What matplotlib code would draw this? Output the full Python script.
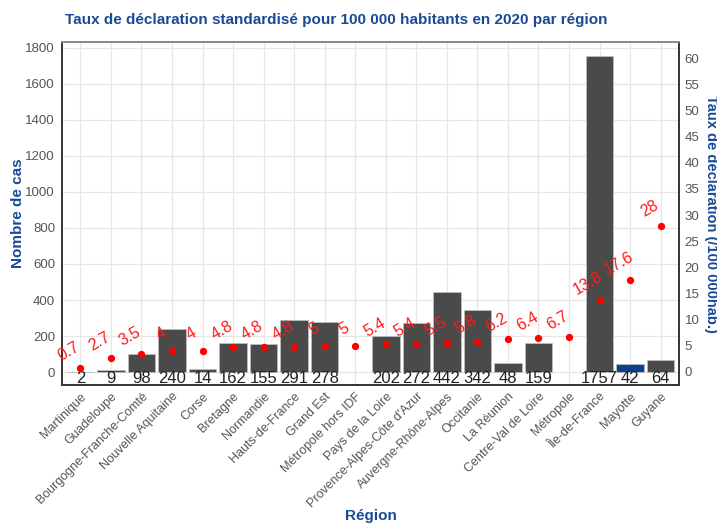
import numpy as np
import matplotlib
matplotlib.use("Agg")
import matplotlib.pyplot as plt

plt.rcParams['font.family'] = ['Liberation Sans', 'DejaVu Sans']

regions = ["Martinique", "Guadeloupe", "Bourgogne-Franche-Comté", "Nouvelle Aquitaine",
           "Corse", "Bretagne", "Normandie", "Hauts-de-France", "Grand Est",
           "Métropole hors IDF", "Pays de la Loire", "Provence-Alpes-Côte d'Azur",
           "Auvergne-Rhône-Alpes", "Occitanie", "La Réunion", "Centre-Val de Loire",
           "Métropole", "Île-de-France", "Mayotte", "Guyane"]
cas = [2, 9, 98, 240, 14, 162, 155, 291, 278, None, 202, 272, 442, 342, 48, 159,
       None, 1757, 42, 64]
taux = [0.7, 2.7, 3.5, 4, 4, 4.8, 4.8, 4.8, 5, 5, 5.4, 5.4, 5.5, 5.8, 6.2, 6.4,
        6.7, 13.8, 17.6, 28]

blue = "#1a4a96"
x = np.arange(len(regions))

fig = plt.figure(figsize=(7.17, 5.25), dpi=100)
ax = fig.add_axes([0.0865, 0.2667, 0.8605, 0.6533])

# grille
for xi in x:
    ax.axvline(xi, color="#e6e6e6", lw=0.9, zorder=0)
for yv in range(0, 1801, 200):
    ax.axhline(yv, color="#e6e6e6", lw=0.9, zorder=0)

for i, c in enumerate(cas):
    if c is None:
        continue
    col = "#0d3f8f" if regions[i] == "Mayotte" else "#4a4a4a"
    ax.bar(x[i], c, width=0.9, color=col, edgecolor="#bdbdbd", lw=0.6, zorder=2)
    ax.text(x[i], -38, str(c), ha="center", va="center", fontsize=12, color="#222222", zorder=5)

ax.set_xlim(-0.6, 19.6)
ax.set_ylim(-72, 1833)
ax.set_yticks(range(0, 1801, 200))
ax.set_xticks(x)
ax.set_xticklabels(regions, rotation=45, ha="right", va="top", rotation_mode="anchor",
                   fontsize=9, color="#555555")
ax.tick_params(axis="y", labelsize=9.5, labelcolor="#555555", length=0, pad=5)
ax.tick_params(axis="x", length=0, pad=4)
for s in ax.spines.values():
    s.set_color("#333333")
    s.set_linewidth(1.4)
ax.spines["top"].set_color("#888888")

ax2 = ax.twinx()
ax2.set_ylim(-2.5, 63.1)
ax2.set_yticks(range(0, 61, 5))
ax2.tick_params(axis="y", labelsize=9.5, labelcolor="#555555", length=0, pad=4)
ax2.scatter(x, taux, s=18, color="#ff0000", zorder=6)
for xi, t in zip(x, taux):
    ax2.annotate(str(t), (xi, t), xytext=(-8, 12), textcoords="offset points",
                 ha="center", va="center", rotation=30, fontsize=11.5, color="#ff1a1a", zorder=7)
for s in ax2.spines.values():
    s.set_visible(False)

ax.set_ylabel("Nombre de cas", fontsize=11, fontweight="bold", color=blue)
ax.yaxis.set_label_coords(-0.06, 0.5)
ax2.set_ylabel("Taux de déclaration (/100 000hab.)", fontsize=10.5, fontweight="bold",
               color=blue, rotation=-90, labelpad=3, va="bottom")
fig.text(0.469, 0.962, "Taux de déclaration standardisé pour 100 000 habitants en 2020 par région",
         ha="center", va="center", fontsize=11, fontweight="bold", color=blue)
fig.text(0.517, 0.018, "Région", ha="center", va="center", fontsize=11, fontweight="bold", color=blue)

fig.savefig("out.png", dpi=100)
